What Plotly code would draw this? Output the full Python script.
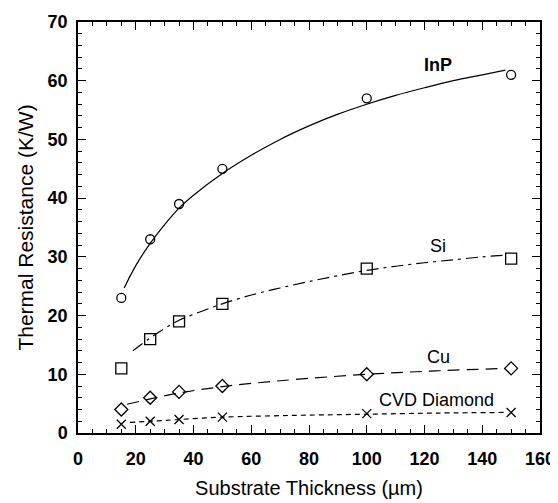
import plotly.graph_objects as go

thickness = [15, 25, 35, 50, 100, 150]
inp = [23, 33, 39, 45, 57, 61]
si = [11, 16, 19, 22, 28, 29.7]
cu = [4, 6, 7, 8, 10, 11]
cvd = [1.5, 2, 2.3, 2.7, 3.3, 3.5]

inp_fit_x = [16, 20, 25, 30, 35, 40, 50, 60, 70, 80, 90, 100, 110, 120, 130, 140, 148]
inp_fit_y = [24.7, 28.5, 32.3, 35.5, 38.3, 40.5, 44.2, 47.3, 50, 52.3, 54.3, 56, 57.5, 58.8, 60, 61, 61.8]
si_fit_x = [19, 25, 30, 35, 40, 50, 60, 70, 80, 90, 100, 110, 120, 130, 140, 148]
si_fit_y = [14, 16.2, 17.8, 19.2, 20.2, 22, 23.5, 24.7, 25.8, 26.8, 27.7, 28.4, 29, 29.5, 30, 30.3]
cu_fit_x = [17, 25, 35, 50, 70, 100, 125, 148]
cu_fit_y = [4.9, 5.8, 6.8, 7.9, 8.9, 10, 10.6, 11]
cvd_fit_x = [18, 25, 35, 50, 75, 100, 125, 148]
cvd_fit_y = [1.8, 2.0, 2.3, 2.7, 3.0, 3.2, 3.4, 3.5]

labels = ["InP", "Si", "Cu", "CVD Diamond"]
label_x = [124.7, 124.7, 124.7, 124.3]
label_y = [62.7, 31.9, 12.9, 5.6]

FONT = "Liberation Sans, Arial"
fig = go.Figure()
black = "black"
fits = [
    (inp_fit_x, inp_fit_y, "solid"),
    (si_fit_x, si_fit_y, "12px,5px,3px,5px"),
    (cu_fit_x, cu_fit_y, "12px,7px"),
    (cvd_fit_x, cvd_fit_y, "5px,4px"),
]
for fx, fy, dash in fits:
    fig.add_trace(go.Scatter(x=fx, y=fy, mode="lines",
                             line=dict(color=black, width=1.2, dash=dash, shape="spline"),
                             showlegend=False, hoverinfo="skip"))

markers = [
    (inp, "circle-open", 9),
    (si, "square-open", 11),
    (cu, "diamond-open", 10),
    (cvd, "x-thin-open", 9),
]
for ys, sym, sz in markers:
    fig.add_trace(go.Scatter(x=thickness, y=ys, mode="markers",
                             marker=dict(symbol=sym, size=sz, color=black,
                                         line=dict(color=black, width=1.3)),
                             showlegend=False))

for i, t in enumerate(labels):
    bold = t == "InP"
    fig.add_annotation(x=label_x[i], y=label_y[i], text=("<b>%s</b>" % t) if bold else t,
                       showarrow=False,
                       font=dict(family=FONT, size=18, color=black))

axis_common = dict(
    showline=True, linecolor=black, linewidth=1.5, mirror="ticks",
    ticks="inside", ticklen=8, tickwidth=1.3, tickcolor=black,
    showgrid=False, zeroline=False, automargin=False,
    tickfont=dict(family=FONT, size=18, color=black, weight="bold"),
)
fig.update_xaxes(range=[0, 160], dtick=20, tick0=0,
                 minor=dict(dtick=5, ticks="inside", ticklen=4, tickwidth=1, tickcolor=black),
                 title=dict(text="Substrate Thickness (µm)", standoff=13,
                            font=dict(family=FONT, size=20, color=black)),
                 ticklabelstandoff=9,
                 **axis_common)
fig.update_yaxes(range=[0, 70], dtick=10, tick0=0,
                 minor=dict(dtick=2, ticks="inside", ticklen=4, tickwidth=1, tickcolor=black),
                 title=dict(text="Thermal Resistance (K/W)", standoff=8,
                            font=dict(family=FONT, size=21, color=black)),
                 ticklabelstandoff=5,
                 **axis_common)

fig.update_layout(width=550, height=495,
                  margin=dict(l=70, r=18, t=14, b=70),
                  paper_bgcolor="white", plot_bgcolor="white")

fig.write_html("out.html")
